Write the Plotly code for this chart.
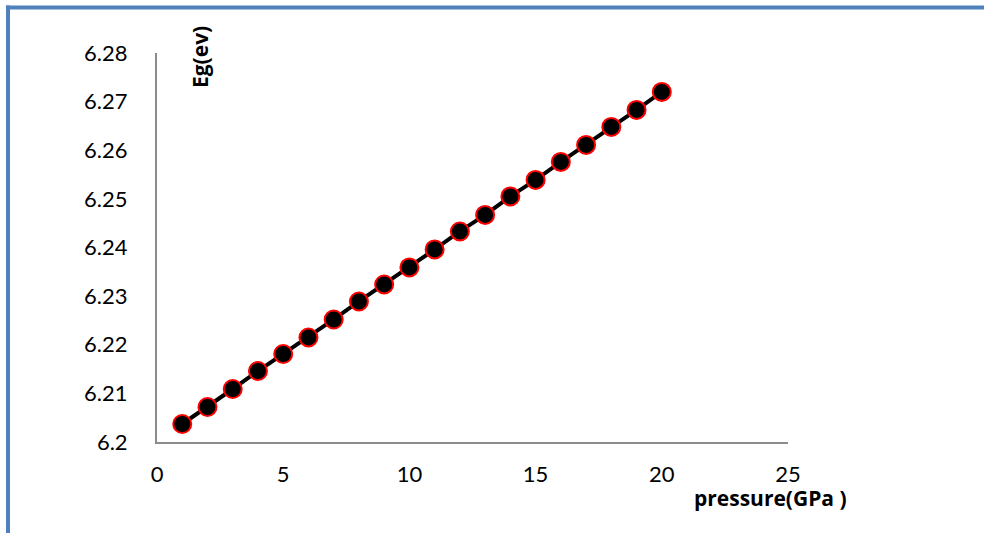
import plotly.graph_objects as go

pressure = list(range(1, 21))
eg = [6.2037, 6.2072, 6.2109, 6.2146, 6.2181, 6.2215, 6.2252, 6.2289, 6.2324, 6.2359,
      6.2396, 6.2433, 6.2467, 6.2505, 6.2539, 6.2576, 6.2611, 6.2648, 6.2683, 6.2720]
x_ticks = [0, 5, 10, 15, 20, 25]
y_ticks = [6.2, 6.21, 6.22, 6.23, 6.24, 6.25, 6.26, 6.27, 6.28]
y_tick_labels = ["6.2", "6.21", "6.22", "6.23", "6.24", "6.25", "6.26", "6.27", "6.28"]

FONT = "Lato"
TITLE_FONT = "Open Sans"

fig = go.Figure()
fig.add_trace(go.Scatter(
    x=pressure, y=eg, mode="lines+markers",
    line=dict(color="black", width=4),
    marker=dict(size=18, color="black", line=dict(color="#FF0000", width=2)),
    showlegend=False,
))

W, H = 984, 533
L, R, T, B = 157, 196, 53, 91
pw, ph = W - L - R, H - T - B

def px_x(p):
    return (p - L) / pw

def px_y(p):
    return (H - B - p) / ph

fig.update_layout(
    width=W, height=H,
    margin=dict(l=L, r=R, t=T, b=B),
    plot_bgcolor="white", paper_bgcolor="white",
    font=dict(family=FONT, size=22, color="black"),
    xaxis=dict(range=[0, 25], tickvals=x_ticks, showgrid=False, zeroline=False,
               showline=True, linecolor="#8c8c8c", linewidth=2, ticks="",
               ticklabelstandoff=12),
    yaxis=dict(range=[6.2, 6.28], tickvals=y_ticks, ticktext=y_tick_labels,
               showgrid=False, zeroline=False,
               showline=True, linecolor="#8c8c8c", linewidth=2, ticks="",
               ticklabelstandoff=23),
    annotations=[
        dict(text="<b>Eg(ev)</b>", textangle=-90, xref="paper", yref="paper",
             x=px_x(200), y=px_y(57), xanchor="center", yanchor="middle",
             showarrow=False, font=dict(size=21, family=TITLE_FONT)),
        dict(text="<b>pressure(GPa )</b>", xref="paper", yref="paper",
             x=px_x(770), y=px_y(498), xanchor="center", yanchor="middle",
             showarrow=False, font=dict(size=21, family=TITLE_FONT)),
    ],
    shapes=[
        dict(type="line", xref="paper", yref="paper", x0=px_x(6), x1=px_x(984),
             y0=px_y(7.5), y1=px_y(7.5), line=dict(color="#4F81BD", width=4)),
        dict(type="line", xref="paper", yref="paper", x0=px_x(8), x1=px_x(8),
             y0=px_y(5.5), y1=px_y(533), line=dict(color="#4F81BD", width=4)),
    ],
)

fig.write_html("out.html", config={"displayModeBar": False},
               post_script="document.body.style.margin='0';document.body.style.overflow='hidden';")
